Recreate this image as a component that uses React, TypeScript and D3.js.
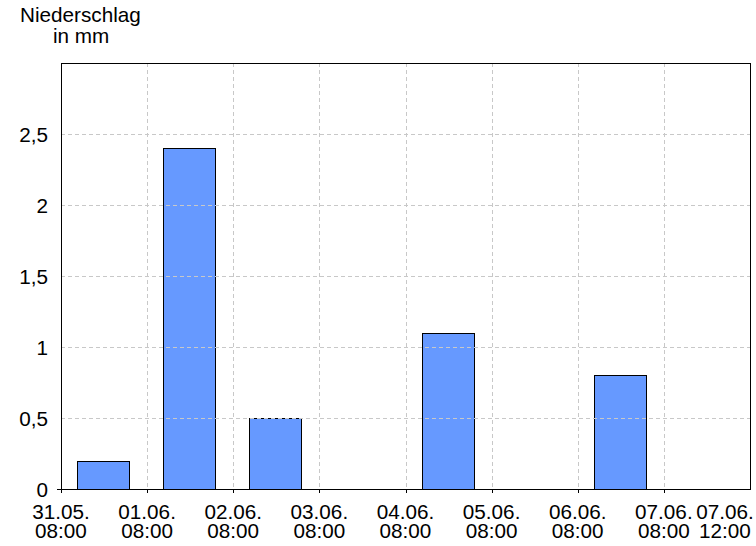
import React from "react";
import * as d3 from "d3";

const dayStarts = ["2023-05-31T08:00", "2023-06-01T08:00", "2023-06-02T08:00", "2023-06-03T08:00", "2023-06-04T08:00", "2023-06-05T08:00", "2023-06-06T08:00", "2023-06-07T08:00"];
const precip = [0.2, 2.4, 0.5, 0, 1.1, 0, 0.8, 0];
const xTickLabels = [
  ["31.05.", "08:00"], ["01.06.", "08:00"], ["02.06.", "08:00"], ["03.06.", "08:00"],
  ["04.06.", "08:00"], ["05.06.", "08:00"], ["06.06.", "08:00"], ["07.06.", "08:00"], ["07.06.", "12:00"],
];
const yTicks = [0, 0.5, 1, 1.5, 2, 2.5];
const yTickLabels = ["0", "0,5", "1", "1,5", "2", "2,5"];
const axisTitle = ["Niederschlag", "in mm"];

const W = 756, H = 546;
const left = 61, right = 750, top = 63, bottom = 489;
const font = "'Liberation Sans', Arial, sans-serif";
const fs = 20.7;

export default function App() {
  const parse = d3.timeParse("%Y-%m-%dT%H:%M");
  const days = dayStarts.map((d) => parse(d) as Date);
  const end = d3.timeDay.offset(days[days.length - 1], 1);
  const x = d3.scaleTime().domain([days[0], end]).range([left, right]);
  const y = d3.scaleLinear().domain([0, 3]).range([bottom, top]);
  const tickDates = [...days, end];

  return (
    <svg width={W} height={H} style={{ position: "absolute", left: 0, top: 0 }} fontFamily={font}>
      <rect x={0} y={0} width={W} height={H} fill="#fff" />
      <text x={20} y={22} fontSize={fs} fill="#000">{axisTitle[0]}</text>
      <text x={53} y={43} fontSize={fs} fill="#000">{axisTitle[1]}</text>
      {precip.map((v, i) => {
        if (v <= 0) return null;
        const x0 = x(d3.timeMinute.offset(days[i], 270));
        const x1 = x(d3.timeMinute.offset(days[i], 1140));
        return (
          <rect key={i} x={Math.round(x0) + 0.5} y={Math.round(y(v)) + 0.5}
            width={Math.round(x1 - x0)} height={Math.round(bottom - y(v))}
            fill="#6699ff" stroke="#000" strokeWidth={1} />
        );
      })}
      {yTicks.slice(1).map((t, i) => (
        <line key={"h" + i} x1={left} x2={right} y1={Math.round(y(t)) + 0.5} y2={Math.round(y(t)) + 0.5}
          stroke="#c8c8c8" strokeDasharray="4,3" />
      ))}
      {tickDates.slice(1, -1).map((d, i) => (
        <line key={"v" + i} x1={Math.round(x(d)) + 0.5} x2={Math.round(x(d)) + 0.5} y1={top} y2={bottom}
          stroke="#c8c8c8" strokeDasharray="4,3" />
      ))}
      <rect x={left + 0.5} y={top + 0.5} width={right - left} height={bottom - top} fill="none" stroke="#000" />
      {tickDates.slice(0, -1).map((d, i) => (
        <line key={"t" + i} x1={Math.round(x(d)) + 0.5} x2={Math.round(x(d)) + 0.5} y1={bottom} y2={bottom + 4} stroke="#000" />
      ))}
      <line x1={left - 4} x2={left} y1={bottom + 0.5} y2={bottom + 0.5} stroke="#000" />
      {yTicks.map((t, i) => (
        <text key={"yl" + i} x={48} y={y(t) + 8} fontSize={fs} textAnchor="end" fill="#000">{yTickLabels[i]}</text>
      ))}
      {tickDates.map((d, i) => {
        const cx = i === tickDates.length - 1 ? 725 : x(d);
        return (
          <g key={"xl" + i}>
            <text x={cx} y={519} fontSize={fs} textAnchor="middle" fill="#000">{xTickLabels[i][0]}</text>
            <text x={cx} y={538} fontSize={fs} textAnchor="middle" fill="#000">{xTickLabels[i][1]}</text>
          </g>
        );
      })}
    </svg>
  );
}
